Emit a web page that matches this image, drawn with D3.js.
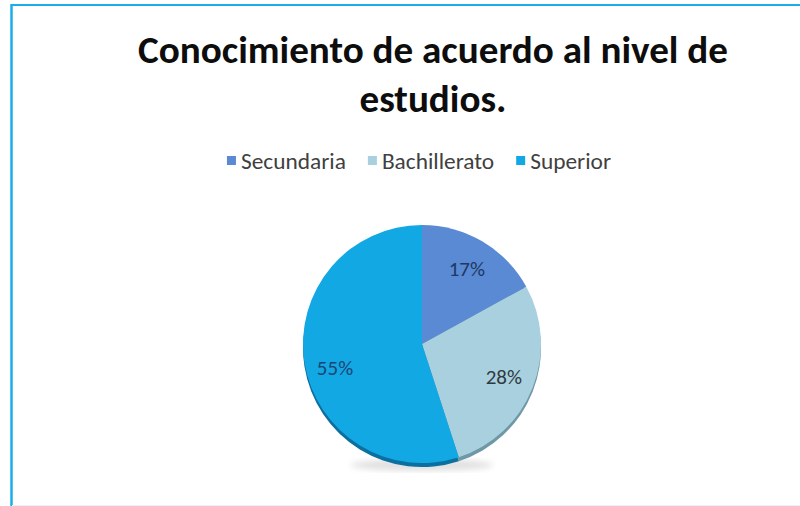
<!DOCTYPE html>
<html><head><meta charset="utf-8">
<script src="https://cdn.jsdelivr.net/npm/d3@7/dist/d3.min.js"></script>
<style>body{margin:0;background:#fff;overflow:hidden} svg{display:block}</style>
</head><body><svg id="c" width="800" height="506"></svg>
<script>
const categories = ["Secundaria", "Bachillerato", "Superior"];
const values = [17, 28, 55];
const valueLabels = ["17%", "28%", "55%"];
const colors = ["#5A8AD3", "#A9D0DF", "#12A8E3"];
const edgeColors = ["#34609E", "#6F98A6", "#0B6FA0"];
const labelColors = ["#1E3966", "#2F3A40", "#1D4476"];
const titleLines = ["Conocimiento de acuerdo al nivel de", "estudios."];

const FONT = "Carlito, 'Open Sans', 'Liberation Sans', sans-serif";
const svg = d3.select("#c");

// frame
svg.append("line").attr("x1", 11).attr("x2", 800).attr("y1", 5).attr("y2", 5)
  .attr("stroke", "#1AAEE9").attr("stroke-width", 2);
svg.append("line").attr("x1", 11.5).attr("x2", 11.5).attr("y1", 4).attr("y2", 506)
  .attr("stroke", "#1AAEE9").attr("stroke-width", 2.5);
svg.append("line").attr("x1", 12).attr("x2", 800).attr("y1", 505.5).attr("y2", 505.5)
  .attr("stroke", "#E6F5FB").attr("stroke-width", 1);

// title, fitted to the reference width
function fit(sel, target) {
  const w = sel.node().getComputedTextLength();
  const fs = parseFloat(sel.attr("font-size"));
  sel.attr("font-size", fs * target / w);
}
const cx = 433;
const t1 = svg.append("text").attr("x", cx).attr("y", 63).attr("text-anchor", "middle")
  .attr("font-family", FONT).attr("font-weight", "bold").attr("font-size", 34)
  .attr("fill", "#0d0d0d").text(titleLines[0]);
fit(t1, 590);
svg.append("text").attr("x", cx).attr("y", 112).attr("text-anchor", "middle")
  .attr("font-family", FONT).attr("font-weight", "bold").attr("font-size", t1.attr("font-size"))
  .attr("fill", "#0d0d0d").text(titleLines[1]);

// legend
const leg = svg.append("g");
const probe = leg.append("text").attr("font-family", FONT).attr("font-size", 16).text(categories[0]);
fit(probe, 105);
const lfs = +probe.attr("font-size");
probe.remove();
let lx = 0;
const gap = 22;
categories.forEach((c, i) => {
  const g = leg.append("g");
  g.append("rect").attr("x", 0).attr("y", -5).attr("width", 9).attr("height", 9).attr("fill", colors[i]);
  const tx = g.append("text").attr("x", 14).attr("y", 0).attr("dy", "0.35em")
    .attr("font-family", FONT).attr("font-size", lfs).attr("fill", "#404040").text(c);
  const w = 14 + tx.node().getComputedTextLength();
  g.attr("transform", `translate(${lx},0)`);
  lx += w + gap;
});
const totalW = lx - gap;
leg.attr("transform", `translate(${419 - totalW / 2},161)`);

// pie
const pcx = 422, pcy = 344, r = 119;
const pie = d3.pie().sort(null).value(d => d)(values);
const arc = d3.arc().innerRadius(0).outerRadius(r);
const labelArc = d3.arc().innerRadius(r * 0.74).outerRadius(r * 0.74);

const defs = svg.append("defs");
defs.append("filter").attr("id", "blur").append("feGaussianBlur").attr("stdDeviation", 3);

const pg = svg.append("g").attr("transform", `translate(${pcx},${pcy})`);
pg.append("ellipse").attr("cx", 0).attr("cy", r + 2).attr("rx", r * 0.6).attr("ry", 6)
  .attr("fill", "#000").attr("opacity", 0.12).attr("filter", "url(#blur)");
// bottom rim (3D edge)
pg.append("g").attr("transform", "translate(0,4)").selectAll("path").data(pie).join("path")
  .attr("d", arc).attr("fill", (d, i) => edgeColors[i]);
pg.append("g").selectAll("path").data(pie).join("path")
  .attr("d", arc).attr("fill", (d, i) => colors[i]);
pg.append("g").selectAll("text").data(pie).join("text")
  .attr("transform", d => {
    const [x, y] = labelArc.centroid(d);
    // the widest slice's label sits a little lower, as in the reference (best-fit placement)
    return `translate(${x},${y + (d.index === 2 ? 10 : 0)})`;
  })
  .attr("text-anchor", "middle").attr("dy", "0.35em")
  .attr("font-family", FONT).attr("font-size", 21)
  .attr("fill", (d, i) => labelColors[i]).text((d, i) => valueLabels[i]);
</script></body></html>
